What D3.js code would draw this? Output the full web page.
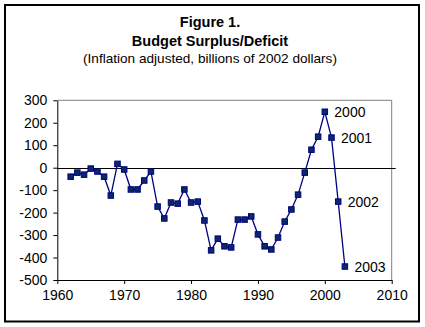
<!DOCTYPE html>
<html>
<head>
<meta charset="utf-8">
<script src="https://cdn.jsdelivr.net/npm/d3@7"></script>
<style>
  body { margin: 0; background: #fff; }
  text { font-family: "Liberation Sans", Arial, sans-serif; }
</style>
</head>
<body>
<div id="chart"></div>
<script>
// Budget surplus/deficit, billions of 2002 dollars
var years = [1962, 1963, 1964, 1965, 1966, 1967, 1968, 1969, 1970, 1971,
             1972, 1973, 1974, 1975, 1976, 1977, 1978, 1979, 1980, 1981,
             1982, 1983, 1984, 1985, 1986, 1987, 1988, 1989, 1990, 1991,
             1992, 1993, 1994, 1995, 1996, 1997, 1998, 1999, 2000, 2001,
             2002, 2003];
var balance = [-40, -22, -31, -4, -17, -40, -124, 17, -8, -97,
               -97, -57, -17, -173, -226, -155, -160, -97, -155, -151,
               -235, -368, -316, -350, -355, -231, -231, -217, -297, -350,
               -364, -311, -240, -186, -120, -22, 80, 138, 249, 134,
               -151, -440];
var labelledYears = [2000, 2001, 2002, 2003];
var xTicks = [1960, 1970, 1980, 1990, 2000, 2010];
var yTicks = [300, 200, 100, 0, -100, -200, -300, -400, -500];

var svgWidth = 425;
var svgHeight = 327;

var plot = { left: 57.3, right: 391.7, top: 100.3, bottom: 280 };

var svg = d3.select("#chart")
  .append("svg")
  .attr("width", svgWidth)
  .attr("height", svgHeight);

svg.append("rect")
  .attr("width", svgWidth)
  .attr("height", svgHeight)
  .attr("fill", "#fff");

// outer frame
svg.append("rect")
  .attr("x", 5)
  .attr("y", 5)
  .attr("width", 414)
  .attr("height", 316.5)
  .attr("fill", "none")
  .attr("stroke", "#000")
  .attr("stroke-width", 2);

// titles
var titles = [
  { text: "Figure 1.", y: 26.7, size: "14.5px", bold: true },
  { text: "Budget Surplus/Deficit", y: 45.5, size: "14.5px", bold: true },
  { text: "(Inflation adjusted, billions of 2002 dollars)", y: 62.5, size: "13.6px", bold: false }
];
svg.selectAll(".title")
  .data(titles)
  .enter()
  .append("text")
  .attr("class", "title")
  .attr("x", 210)
  .attr("y", d => d.y)
  .attr("text-anchor", "middle")
  .style("font-size", d => d.size)
  .style("font-weight", d => d.bold ? "bold" : "normal")
  .text(d => d.text);

var x = d3.scaleLinear()
  .domain([1960, 2010])
  .range([plot.left, plot.right]);

var y = d3.scaleLinear()
  .domain([-500, 300])
  .range([plot.bottom, plot.top]);

// plot area frame (top and right in grey)
svg.append("path")
  .attr("d", `M${plot.left},${plot.top}H${plot.right}V${plot.bottom}`)
  .attr("fill", "none")
  .attr("stroke", "#808080")
  .attr("stroke-width", 1);

// zero line
svg.append("line")
  .attr("x1", plot.left)
  .attr("x2", plot.right + 4)
  .attr("y1", Math.round(y(0)) + 0.5)
  .attr("y2", Math.round(y(0)) + 0.5)
  .attr("stroke", "#000")
  .attr("stroke-width", 1);

var xAxis = d3.axisBottom(x)
  .tickValues(xTicks)
  .tickFormat(d3.format("d"))
  .tickSizeInner(4)
  .tickSizeOuter(0)
  .tickPadding(6);

var yAxis = d3.axisLeft(y)
  .tickValues(yTicks)
  .tickFormat(d => d < 0 ? "-" + Math.abs(d) : d)
  .tickSizeInner(4)
  .tickSizeOuter(0)
  .tickPadding(6);

var gx = svg.append("g")
  .attr("transform", `translate(0, ${plot.bottom})`)
  .call(xAxis);

var gy = svg.append("g")
  .attr("transform", `translate(${plot.left}, 0)`)
  .call(yAxis);

[gx, gy].forEach(function(g) {
  g.selectAll("path, line").attr("stroke", "#000");
  g.selectAll("text")
    .attr("fill", "#000")
    .style("font-size", "14px")
    .style("font-family", "'Liberation Sans', Arial, sans-serif");
});

var data = years.map((yr, i) => ({ year: yr, value: balance[i] }));

var line = d3.line()
  .x(d => x(d.year))
  .y(d => y(d.value));

svg.append("path")
  .datum(data)
  .attr("d", line)
  .attr("fill", "none")
  .attr("stroke", "#000080")
  .attr("stroke-width", 1.3);

var size = 5.5;
svg.selectAll(".marker")
  .data(data)
  .enter()
  .append("rect")
  .attr("class", "marker")
  .attr("x", d => x(d.year) - size / 2)
  .attr("y", d => y(d.value) - size / 2)
  .attr("width", size)
  .attr("height", size)
  .attr("fill", "#0a2a66")
  .attr("stroke", "#000080")
  .attr("stroke-width", 1);

// year labels on the last points
svg.selectAll(".pointLabel")
  .data(data.filter(d => labelledYears.includes(d.year)))
  .enter()
  .append("text")
  .attr("class", "pointLabel")
  .attr("x", d => x(d.year) + 9.5)
  .attr("y", d => y(d.value))
  .attr("dy", "0.36em")
  .style("font-size", "14px")
  .text(d => d.year);
</script>
</body>
</html>
